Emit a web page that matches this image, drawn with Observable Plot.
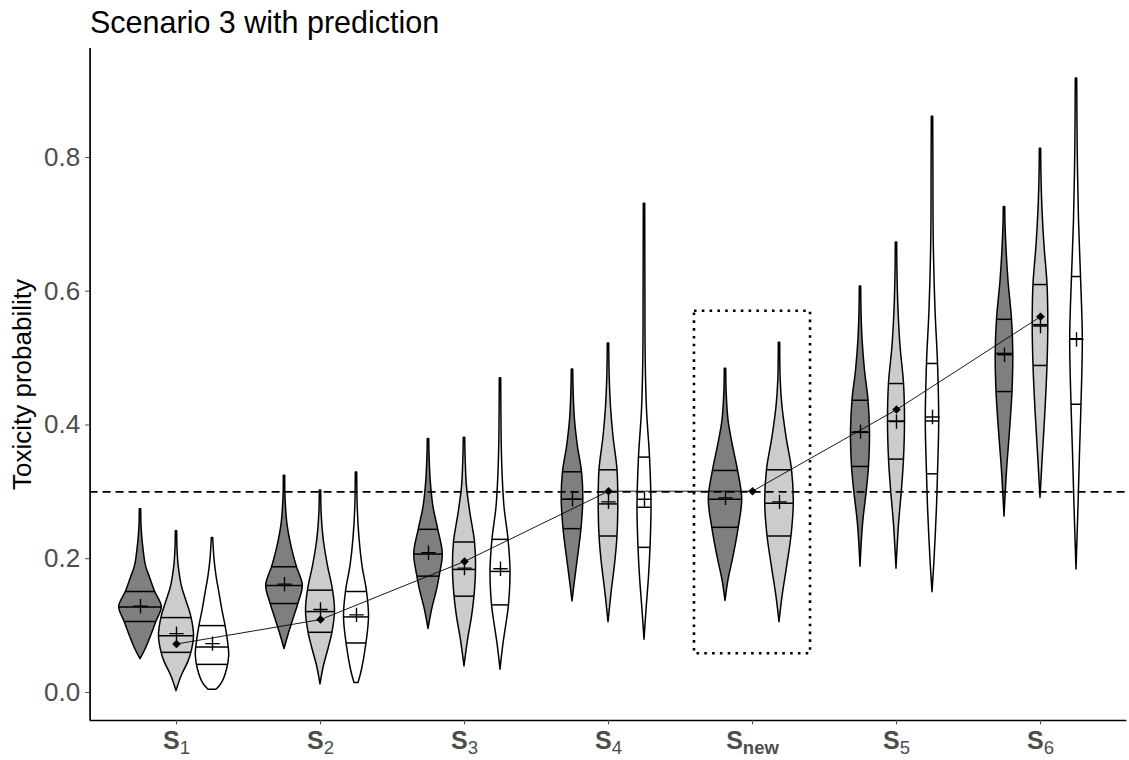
<!DOCTYPE html>
<html><head><meta charset="utf-8">
<script src="https://cdn.jsdelivr.net/npm/d3@7"></script>
<script src="https://cdn.jsdelivr.net/npm/@observablehq/plot@0.6"></script>
<style>
body{margin:0;background:#fff;font-family:"Liberation Sans",Arial,sans-serif;}
#title{position:relative;height:44px;}
#title span{position:absolute;left:90px;top:7px;font-size:30.5px;line-height:1;color:#000;white-space:nowrap;}
#chart svg{display:block;}
</style></head><body>
<div id="title"><span>Scenario 3 with prediction</span></div>
<div id="chart"></div>
<script>
// ---------- data ----------
const groups = ["S1", "S2", "S3", "S4", "Snew", "S5", "S6"];
const groupSubscripts = ["1", "2", "3", "4", "new", "5", "6"];
const methods = ["Method 1", "Method 2", "Method 3"];

const violinGroup = ["S1","S1","S1","S2","S2","S2","S3","S3","S3","S4","S4","S4","Snew","Snew","S5","S5","S5","S6","S6","S6"];
const violinMethod = ["Method 1","Method 2","Method 3","Method 1","Method 2","Method 3","Method 1","Method 2","Method 3","Method 1","Method 2","Method 3","Method 1","Method 2","Method 1","Method 2","Method 3","Method 1","Method 2","Method 3"];
const violinQ25    = [0.106,0.060,0.042, 0.133,0.090,0.074, 0.174,0.144,0.131, 0.245,0.234,0.217, 0.247,0.234, 0.338,0.349,0.327, 0.450,0.489,0.431];
const violinMedian = [0.128,0.085,0.068, 0.160,0.121,0.113, 0.207,0.184,0.181, 0.289,0.282,0.277, 0.289,0.283, 0.389,0.406,0.406, 0.507,0.550,0.529];
const violinQ75    = [0.151,0.112,0.100, 0.188,0.153,0.151, 0.244,0.225,0.229, 0.330,0.333,0.352, 0.332,0.333, 0.437,0.462,0.492, 0.558,0.610,0.622];
const violinMean   = [0.129,0.088,0.073, 0.162,0.124,0.116, 0.209,0.186,0.185, 0.289,0.285,0.289, 0.291,0.285, 0.390,0.405,0.412, 0.505,0.548,0.528];
// density profiles: [toxicity, relative density]
const violinDensity = [
  [[0.050,0],[0.065,5.3],[0.086,11],[0.106,16],[0.128,21.3],[0.151,14.5],[0.171,9.7],[0.189,5.5],[0.225,2.2],[0.250,1.0],[0.274,0.7]],
  [[0.002,0],[0.024,5],[0.045,11.7],[0.060,15],[0.085,17.5],[0.112,15],[0.138,9.7],[0.158,5.5],[0.189,2.2],[0.215,1.0],[0.241,0.7]],
  [[0.004,4],[0.014,9.5],[0.034,14.5],[0.055,16.7],[0.076,15.5],[0.100,13],[0.122,10],[0.148,7],[0.174,4],[0.199,2],[0.231,0.7]],
  [[0.065,0],[0.086,4],[0.112,9.5],[0.133,14],[0.160,18.3],[0.188,12.3],[0.215,7.5],[0.251,3],[0.292,1.0],[0.324,0.7]],
  [[0.012,0],[0.040,3.5],[0.065,8],[0.090,12],[0.121,14.5],[0.153,12.5],[0.189,7.5],[0.225,3.5],[0.266,1.2],[0.302,0.7]],
  [[0.014,2],[0.034,5.5],[0.074,10],[0.113,12.5],[0.151,10.5],[0.189,6],[0.230,3],[0.277,1.2],[0.329,0.7]],
  [[0.095,0],[0.123,3.5],[0.153,8.5],[0.174,11.2],[0.207,14.3],[0.244,9.7],[0.277,5],[0.317,2.2],[0.357,1.0],[0.379,0.7]],
  [[0.039,0],[0.078,3.5],[0.113,7.5],[0.144,10],[0.184,11.5],[0.225,10.5],[0.267,6],[0.307,2.5],[0.347,1.2],[0.381,0.7]],
  [[0.034,0],[0.073,3],[0.108,6.5],[0.131,8.5],[0.181,10],[0.229,8],[0.277,4],[0.322,2.2],[0.372,1.2],[0.420,0.9],[0.470,0.7]],
  [[0.136,0],[0.173,3],[0.213,6.5],[0.245,9],[0.289,10.8],[0.330,9.5],[0.367,5.5],[0.407,2.5],[0.447,1.2],[0.483,0.7]],
  [[0.105,0],[0.148,3],[0.198,7],[0.234,9],[0.282,9.8],[0.333,9],[0.382,5],[0.427,2.5],[0.472,1.2],[0.522,0.7]],
  [[0.079,0],[0.123,2],[0.173,4.5],[0.217,6],[0.277,7],[0.352,5.5],[0.422,2.5],[0.497,1.2],[0.597,0.9],[0.731,0.7]],
  [[0.137,0],[0.168,3],[0.203,8],[0.247,13.3],[0.289,16.7],[0.332,12.5],[0.372,7],[0.407,3],[0.447,1.2],[0.484,0.7]],
  [[0.105,0],[0.143,3],[0.187,7.5],[0.234,12],[0.283,14.3],[0.333,12.5],[0.382,7],[0.427,3],[0.467,1.2],[0.523,0.7]],
  [[0.188,0],[0.251,2.5],[0.304,6.5],[0.338,8.5],[0.389,9.5],[0.437,8],[0.481,4.5],[0.529,2],[0.572,1.0],[0.607,0.7]],
  [[0.185,0],[0.251,2.5],[0.304,5.5],[0.349,7.5],[0.406,8.5],[0.462,7.5],[0.518,4],[0.572,2],[0.625,1.0],[0.673,0.7]],
  [[0.150,0],[0.198,2],[0.278,4.5],[0.327,5.5],[0.406,6.7],[0.492,5.5],[0.572,3],[0.679,1.2],[0.786,0.9],[0.861,0.7]],
  [[0.263,0],[0.331,2.5],[0.401,6],[0.450,8],[0.507,8.8],[0.558,7.5],[0.615,4],[0.663,2],[0.700,1.0],[0.726,0.7]],
  [[0.291,0],[0.358,2.5],[0.422,5],[0.489,7],[0.550,7.8],[0.610,7],[0.668,4],[0.722,2],[0.770,1.0],[0.813,0.7]],
  [[0.184,0],[0.278,2],[0.358,3.5],[0.431,5],[0.529,6.3],[0.622,4.5],[0.706,2.5],[0.812,1.2],[0.918,0.7]]
];

const predictionGroup = ["S1", "S2", "S3", "S4", "Snew", "S5", "S6"];
const predictionValue = [0.0725, 0.109, 0.196, 0.301, 0.301, 0.423, 0.562];
const targetToxicity = 0.3;
const highlightGroup = "Snew";
const highlightRange = [0.058, 0.570];
const yTicks = [0, 0.2, 0.4, 0.6, 0.8];

// ---------- layout ----------
const dodgeWidth = 0.75;
const violinHalfWidth = 0.148;
const highlightHalfWidth = 0.403;
const xDomain = [-0.6, groups.length - 0.4];
const yDomain = [-0.0419, 0.963];

const groupCounts = d3.rollup(violinGroup, v => v.length, d => d);
const seen = new Map();
const violins = violinGroup.map((g, i) => {
  const gi = groups.indexOf(g);
  const n = groupCounts.get(g);
  const k = seen.get(g) || 0; seen.set(g, k + 1);
  const cx = gi + (k - (n - 1) / 2) * dodgeWidth / n;
  return {i, group: g, method: violinMethod[i], cx, profile: violinDensity[i],
          q: [violinQ25[i], violinMedian[i], violinQ75[i]], mean: violinMean[i]};
});
const dMax = d3.max(violinDensity.flat(), p => p[1]);
const hw = d => d / dMax * violinHalfWidth;
const outline = violins.flatMap(v => v.profile.map(([y, d]) => ({id: v.i, method: v.method, y, x1: v.cx - hw(d), x2: v.cx + hw(d)})));
function densityAt(profile, y) {
  for (let j = 1; j < profile.length; j++) {
    const [y0, d0] = profile[j - 1], [y1, d1] = profile[j];
    if (y >= y0 && y <= y1) return d0 + (d1 - d0) * (y - y0) / (y1 - y0);
  }
  return 0;
}
const quantileRows = violins.flatMap(v => v.q.map(q => { const w = hw(densityAt(v.profile, q)); return {y: q, x1: v.cx - w, x2: v.cx + w}; }));
const meanRows = violins.map(v => ({x: v.cx, y: v.mean}));
const predRows = predictionGroup.map((g, i) => ({x: groups.indexOf(g), y: predictionValue[i]}));
const hi = groups.indexOf(highlightGroup);
const boxRows = [{x1: hi - highlightHalfWidth, x2: hi + highlightHalfWidth, y1: highlightRange[0], y2: highlightRange[1]}];

const chart = Plot.plot({
  width: 1129, height: 716,
  marginLeft: 89.6, marginRight: 2.6, marginTop: 4, marginBottom: 40,
  style: {fontFamily: '"Liberation Sans", Arial, sans-serif', background: "#fff", overflow: "visible"},
  x: {domain: xDomain, axis: null},
  y: {domain: yDomain, axis: null},
  color: {domain: methods, range: ["#7F7F7F", "#CCCCCC", "#FFFFFF"]},
  marks: [
    Plot.areaX(outline, {y: "y", x1: "x1", x2: "x2", z: "id", fill: "method", stroke: "black", strokeWidth: 1.5, curve: "catmull-rom"}),
    Plot.ruleY(quantileRows, {y: "y", x1: "x1", x2: "x2", stroke: "black", strokeWidth: 1.5}),
    Plot.dot(meanRows, {x: "x", y: "y", symbol: "plus", r: 4.7, stroke: "black", strokeWidth: 1.4}),
    Plot.ruleY([targetToxicity], {stroke: "black", strokeWidth: 1.6, strokeDasharray: "8,5"}),
    Plot.line(predRows, {x: "x", y: "y", stroke: "black", strokeWidth: 0.9}),
    Plot.dot(predRows, {x: "x", y: "y", symbol: "diamond2", r: 3.6, fill: "black", stroke: "black", strokeWidth: 0.5}),
    Plot.rect(boxRows, {x1: "x1", x2: "x2", y1: "y1", y2: "y2", fill: "none", stroke: "black", strokeWidth: 2.6, strokeDasharray: "2.6,5.2"}),
    Plot.ruleX([xDomain[0]], {stroke: "black", strokeWidth: 1.7}),
    Plot.ruleY([yDomain[0]], {stroke: "black", strokeWidth: 1.7}),
    Plot.axisY({ticks: yTicks, tickFormat: d3.format(".1f"), fontSize: 26, tickSize: 4.5, tickPadding: 5.5, color: "#4D4D4D", label: null}),
    Plot.axisX({ticks: d3.range(groups.length), tickFormat: i => groups[i], fontSize: 25, tickSize: 4.5, tickPadding: 6.5, color: "#4D4D4D", label: null}),
    Plot.text(["Toxicity probability"], {text: d => d, frameAnchor: "left", dx: -67, rotate: -90, textAnchor: "middle", lineAnchor: "middle", fontSize: 26, fill: "black"})
  ]
});

const ns = "http://www.w3.org/2000/svg";
chart.querySelectorAll('g[aria-label="x-axis tick label"] text').forEach(t => {
  const name = t.textContent;
  const i = groups.indexOf(name);
  if (i < 0) return;
  const sub = groupSubscripts[i];
  const base = name.slice(0, name.length - sub.length);
  t.textContent = "";
  const a = document.createElementNS(ns, "tspan");
  a.setAttribute("font-weight", "bold");
  a.textContent = base;
  const b = document.createElementNS(ns, "tspan");
  b.setAttribute("font-size", "18.5");
  b.setAttribute("dy", "5");
  if (!/^\d+$/.test(sub)) b.setAttribute("font-weight", "bold");
  b.textContent = sub;
  t.appendChild(a); t.appendChild(b);
});
document.getElementById("chart").appendChild(chart);
</script></body></html>
